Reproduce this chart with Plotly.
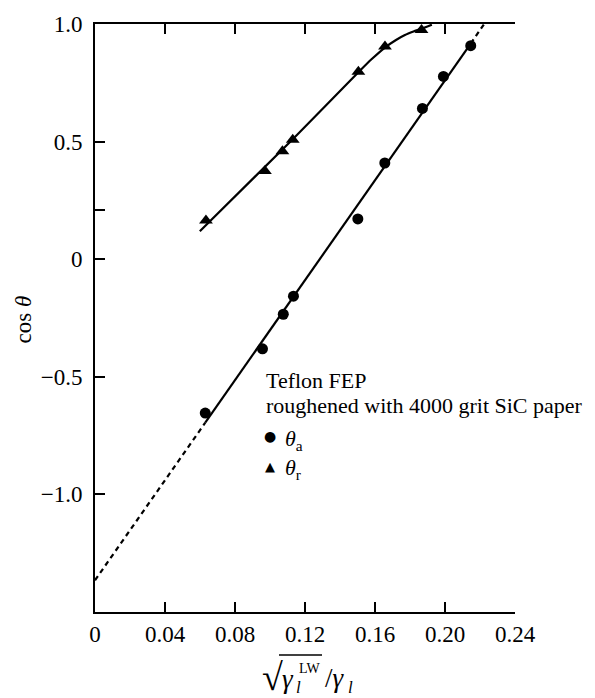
import plotly.graph_objects as go

# ---- data ----
x_adv = [0.063, 0.0957, 0.1076, 0.1134, 0.1502, 0.1656, 0.1871, 0.1991, 0.2147]
cos_adv = [-0.654, -0.381, -0.234, -0.157, 0.171, 0.409, 0.641, 0.777, 0.908]

x_rec = [0.0634, 0.0971, 0.1071, 0.1130, 0.1505, 0.1657, 0.1866]
cos_rec = [0.165, 0.375, 0.459, 0.508, 0.797, 0.904, 0.975]

# fitted line for advancing angles (dashed extrapolations at both ends)
adv_fit_x = [0.0, 0.063, 0.2147, 0.2224]
adv_fit_y = [-1.365, -0.695, 0.917, 1.0]

# hand-drawn curve for receding angles
rec_fit_x = [0.0599, 0.1130, 0.1505, 0.1580, 0.1657, 0.1720, 0.1771, 0.1820, 0.1866, 0.1925]
rec_fit_y = [0.119, 0.510, 0.795, 0.850, 0.900, 0.932, 0.953, 0.968, 0.980, 0.997]

x_tickvals = [0, 0.04, 0.08, 0.12, 0.16, 0.20, 0.24]
x_ticktext = ["0", "0.04", "0.08", "0.12", "0.16", "0.20", "0.24"]
y_tickvals = [-1.0, -0.5, 0, 0.21, 0.5, 1.0]
y_ticktext = ["\u22121.0", "\u22120.5", "0", "", "0.5", "1.0"]

SERIF = "Liberation Serif, Times New Roman, serif"
W, H = 595, 698
L, R, T, B = 95, 80, 17, 86
PW, PH = W - L - R, H - T - B


def px(xp):
    return (xp - L) / PW


def py(yp):
    return (H - B - yp) / PH


fig = go.Figure()

# dashed extrapolations
fig.add_trace(go.Scatter(x=adv_fit_x[0:2], y=adv_fit_y[0:2], mode="lines",
                         line=dict(color="black", width=2.2, dash="5px,4px"),
                         showlegend=False, hoverinfo="skip"))
fig.add_trace(go.Scatter(x=adv_fit_x[2:4], y=adv_fit_y[2:4], mode="lines",
                         line=dict(color="black", width=2.2, dash="5px,4px"),
                         showlegend=False, hoverinfo="skip"))
# solid fit
fig.add_trace(go.Scatter(x=adv_fit_x[1:3], y=adv_fit_y[1:3], mode="lines",
                         line=dict(color="black", width=2.2),
                         showlegend=False, hoverinfo="skip"))
fig.add_trace(go.Scatter(x=rec_fit_x, y=rec_fit_y, mode="lines",
                         line=dict(color="black", width=2.2, shape="spline", smoothing=0.5),
                         showlegend=False, hoverinfo="skip"))

fig.add_trace(go.Scatter(x=x_adv, y=cos_adv, mode="markers", name="θa",
                         marker=dict(symbol="circle", size=11, color="black"),
                         cliponaxis=False, showlegend=False))
fig.add_trace(go.Scatter(x=x_rec, y=cos_rec, mode="markers", name="θr",
                         marker=dict(symbol="triangle-up", size=12, color="black"),
                         cliponaxis=False, showlegend=False))


def A(text, xp, yp, size, xanchor="left", family=SERIF, **kw):
    return dict(text=text, x=px(xp), y=py(yp), xref="paper", yref="paper",
                xanchor=xanchor, yanchor="middle", showarrow=False,
                font=dict(family=family, size=size, color="black"), **kw)


ann = [
    A("Teflon FEP", 264, 378, 22),
    A("roughened with 4000 grit SiC paper", 264, 403, 22),
    A("\u25cf", 270, 434, 14, xanchor="center", family="DejaVu Sans"),
    A("\u25b2", 270, 465, 13, xanchor="center", family="DejaVu Sans"),
    A("<i>θ</i><sub>a</sub>", 283, 438, 22),
    A("<i>θ</i><sub>r</sub>", 283, 467, 22),
    # y title
    A("cos <i>θ</i>", 23, 316, 23, xanchor="center", textangle=-90),
    # x title, built from pieces: sqrt(gamma_l^LW)/gamma_l
    A("\u221a", 260, 678, 38),
    A("<i>γ</i>", 280, 680, 27),
    A("<i>l</i>", 294, 688, 17),
    A("LW", 297, 669, 14),
    A("/<i>γ</i>", 323, 679, 27),
    A("<i>l</i>", 346, 688, 17),
]

fig.update_layout(
    width=W, height=H, autosize=False,
    margin=dict(l=L, r=R, t=T, b=B, pad=0),
    paper_bgcolor="white", plot_bgcolor="white",
    showlegend=False,
    annotations=ann,
    shapes=[dict(type="line", xref="paper", yref="paper",
                 x0=px(279), x1=px(322), y0=py(655.5), y1=py(655.5),
                 line=dict(color="black", width=1.6))],
    font=dict(family=SERIF, color="black"),
)
fig.update_xaxes(range=[0, 0.24], showgrid=False, zeroline=False,
                 showline=True, linecolor="black", linewidth=2, mirror="ticks",
                 ticks="inside", ticklen=10, tickwidth=1.6, tickcolor="black",
                 tickvals=x_tickvals, ticktext=x_ticktext, ticklabelstandoff=0,
                 tickfont=dict(family=SERIF, size=23, color="black"))
fig.update_yaxes(range=[-1.5, 1.0], showgrid=False, zeroline=False,
                 showline=True, linecolor="black", linewidth=2, mirror=False,
                 ticks="inside", ticklen=10, tickwidth=1.6, tickcolor="black",
                 tickvals=y_tickvals, ticktext=y_ticktext, ticklabelstandoff=6,
                 tickfont=dict(family=SERIF, size=23, color="black"))

fig.write_html("out.html")
